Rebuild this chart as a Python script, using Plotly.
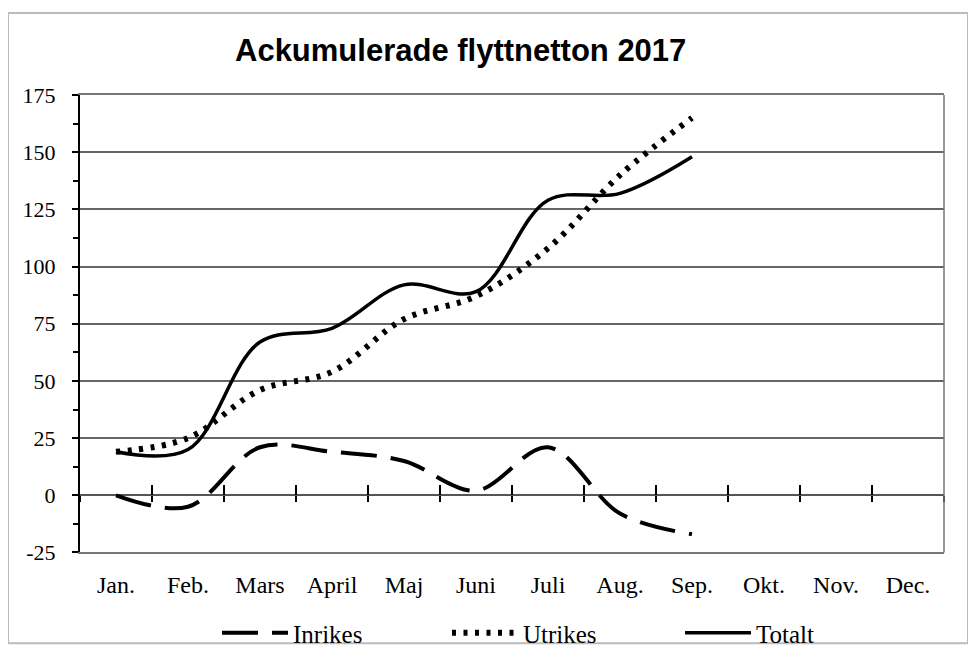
import plotly.graph_objects as go

months = ["Jan.", "Feb.", "Mars", "April", "Maj", "Juni", "Juli", "Aug.", "Sep.", "Okt.", "Nov.", "Dec."]
inrikes = [0, -5, 21, 19, 15, 2, 21, -8, -17]
utrikes = [19, 25, 46, 54, 77, 87, 108, 140, 165]
totalt = [19, 20, 67, 73, 92, 89, 129, 132, 148]
y_ticks = [-25, 0, 25, 50, 75, 100, 125, 150, 175]
y_labels = ["-25", "0", "25", "50", "75", "100", "125", "150", "175"]

serif = "Liberation Serif, Times New Roman, serif"

OFF = 8
W, H = 960, 643
L, T, R, B = 72, 87, 24, 93
PW = W - L - R
PH = H - T - B


def px_x(page_x):
    return (page_x - OFF - L) / PW


def px_y(page_y):
    return (OFF + T + PH - page_y) / PH


fig = go.Figure()
fig.add_trace(go.Scatter(x=months[:len(inrikes)], y=inrikes, name="Inrikes", mode="lines",
                         line=dict(color="black", width=4, dash="36px,14px", shape="spline", smoothing=1),
                         legend="legend", hoverinfo="skip"))
fig.add_trace(go.Scatter(x=months[:len(utrikes)], y=utrikes, name="Utrikes", mode="lines",
                         line=dict(color="black", width=6, dash="4px,7.5px", shape="spline", smoothing=1),
                         legend="legend2", hoverinfo="skip"))
fig.add_trace(go.Scatter(x=months[:len(totalt)], y=totalt, name="Totalt", mode="lines",
                         line=dict(color="black", width=3.5, shape="spline", smoothing=1),
                         legend="legend3", hoverinfo="skip"))
for ax in ["x2", "x3"]:
    fig.add_trace(go.Scatter(x=months, y=[None] * len(months), xaxis=ax, showlegend=False,
                             hoverinfo="skip", mode="lines"))

legend_common = dict(orientation="h", xref="container", yref="container", yanchor="middle",
                     itemwidth=66,
                     font=dict(family=serif, size=25, color="black"), bgcolor="rgba(0,0,0,0)")
leg_y = (OFF + H - 633) / H


def leg_x(line_start):
    return (line_start - 5 - OFF) / W


fig.update_layout(
    width=W, height=H,
    margin=dict(l=L, r=R, t=T, b=B),
    paper_bgcolor="white", plot_bgcolor="white",
    showlegend=True,
    annotations=[dict(text="<b>Ackumulerade flyttnetton 2017</b>", xref="paper", yref="paper",
                      x=px_x(460), y=px_y(50), xanchor="center", yanchor="middle",
                      showarrow=False, font=dict(family="Liberation Sans, Arial, sans-serif", size=31, color="black"))],
    legend=dict(x=leg_x(222), y=leg_y, **legend_common),
    legend2=dict(x=leg_x(452), y=leg_y, **legend_common),
    legend3=dict(x=leg_x(685), y=leg_y, **legend_common),
    xaxis=dict(type="category", categoryorder="array", categoryarray=months, range=[-0.5, 11.5],
               showgrid=False, ticks="", showline=True, linecolor="#777", linewidth=1.5, mirror=True,
               tickfont=dict(family=serif, size=24, color="black"), ticklabelstandoff=10, fixedrange=True),
    xaxis2=dict(type="category", categoryorder="array", categoryarray=months, range=[-0.5, 11.5],
                overlaying="x", anchor="free", position=25 / 200, tickson="boundaries",
                ticks="outside", ticklen=6, tickwidth=1.5, tickcolor="black", showticklabels=False,
                showgrid=False, showline=False, zeroline=False),
    xaxis3=dict(type="category", categoryorder="array", categoryarray=months, range=[-0.5, 11.5],
                overlaying="x", anchor="free", position=25 / 200, tickson="boundaries",
                ticks="inside", ticklen=10, tickwidth=1.5, tickcolor="black", showticklabels=False,
                showgrid=False, showline=False, zeroline=False),
    yaxis=dict(range=[-25, 175], tickvals=y_ticks, ticktext=y_labels, showgrid=True, gridcolor="#666", gridwidth=1.5,
               zeroline=True, zerolinecolor="#555", zerolinewidth=1.5,
               showline=True, linecolor="black", linewidth=2,
               ticks="outside", ticklen=6, tickwidth=1.5, tickcolor="black",
               minor=dict(dtick=12.5, tick0=0, ticks="outside", ticklen=5, tickcolor="black", showgrid=False),
               tickfont=dict(family=serif, size=22, color="black"), ticklabelstandoff=12, fixedrange=True),
    shapes=[
        dict(type="line", xref="paper", yref="paper", x0=1, x1=1, y0=0, y1=1,
             line=dict(color="#777", width=1.5)),
        dict(type="rect", xref="paper", yref="paper", x0=px_x(8), x1=px_x(968),
             y0=px_y(650), y1=px_y(12), line=dict(color="#bbb", width=2), layer="below"),
    ],
)

fig.write_html("out.html")
